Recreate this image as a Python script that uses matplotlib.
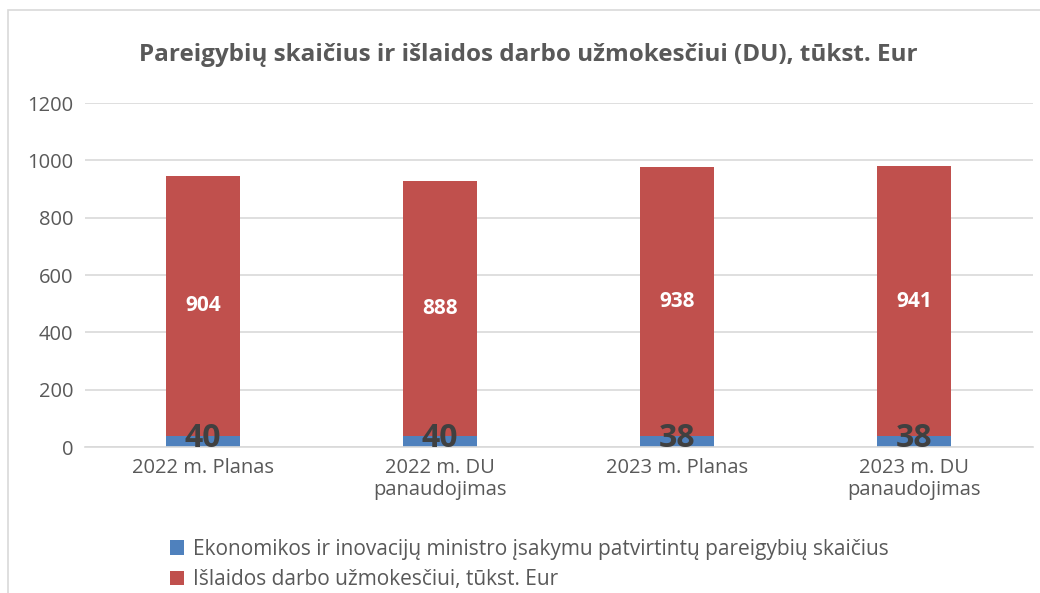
import matplotlib.pyplot as plt
from matplotlib.patches import Rectangle

categories = ["2022 m. Planas", "2022 m. DU\npanaudojimas",
              "2023 m. Planas", "2023 m. DU\npanaudojimas"]
positions = [40, 40, 38, 38]
salaries = [904, 888, 938, 941]
series_names = ["Ekonomikos ir inovacijų ministro įsakymu patvirtintų pareigybių skaičius",
                "Išlaidos darbo užmokesčiui, tūkst. Eur"]
y_ticks = [0, 200, 400, 600, 800, 1000, 1200]

BLUE = "#4f81bd"
RED = "#c0504d"
TEXT = "#595959"
GRID = "#d9d9d9"

plt.rcParams['font.family'] = ['Open Sans', 'DejaVu Sans']

fig = plt.figure(figsize=(10.4, 5.93), dpi=100)
ax = fig.add_axes([0.0813, 0.2462, 0.9115, 0.5801])

x = range(len(categories))
b1 = ax.bar(x, positions, width=0.316, color=BLUE, label=series_names[0], zorder=2)
b2 = ax.bar(x, salaries, width=0.316, bottom=positions, color=RED,
            label=series_names[1], zorder=2)

for i in x:
    # big count labels sit a little above the middle of the thin blue segment
    ax.annotate(str(positions[i]), (i, positions[i] / 2), xytext=(0, 2),
                textcoords='offset points', ha='center', va='center',
                fontsize=23, fontweight='bold', color='#404040', zorder=3)
    ax.text(i, positions[i] + salaries[i] / 2, str(salaries[i]), ha='center',
            va='center', fontsize=15, fontweight='bold', color='white', zorder=3)

ax.set_xlim(-0.5, 3.5)
ax.set_ylim(0, 1200)
ax.set_yticks(y_ticks)
ax.set_xticks(list(x))
ax.set_xticklabels(categories, linespacing=1.15)
ax.tick_params(length=0, labelsize=14.5, colors=TEXT)
ax.tick_params(axis='x', pad=8)
ax.tick_params(axis='y', pad=8)
ax.yaxis.grid(True, color=GRID, linewidth=1.2, zorder=0)
ax.set_axisbelow(True)
for s in ['top', 'right', 'left']:
    ax.spines[s].set_visible(False)
ax.spines['bottom'].set_color(GRID)
ax.spines['bottom'].set_linewidth(1.2)

fig.text(0.508, 0.907, "Pareigybių skaičius ir išlaidos darbo užmokesčiui (DU), tūkst. Eur",
         ha='center', va='center', fontsize=17.5, fontweight='bold', color=TEXT)

leg = fig.legend(handles=[b1, b2], loc='upper left', bbox_to_anchor=(0.155, 0.105),
                 ncol=1, frameon=False, fontsize=15, labelcolor=TEXT,
                 handlelength=0.7, handleheight=0.7, handletextpad=0.45,
                 labelspacing=0.45, borderaxespad=0)

# chart frame (cut off on the right and bottom)
fig.patches.append(Rectangle((8 / 1040, -0.1), 1.2, 1 - 10 / 593 + 0.1,
                             transform=fig.transFigure, fill=False,
                             edgecolor=GRID, linewidth=1.2))

fig.savefig("out.png", dpi=100)
